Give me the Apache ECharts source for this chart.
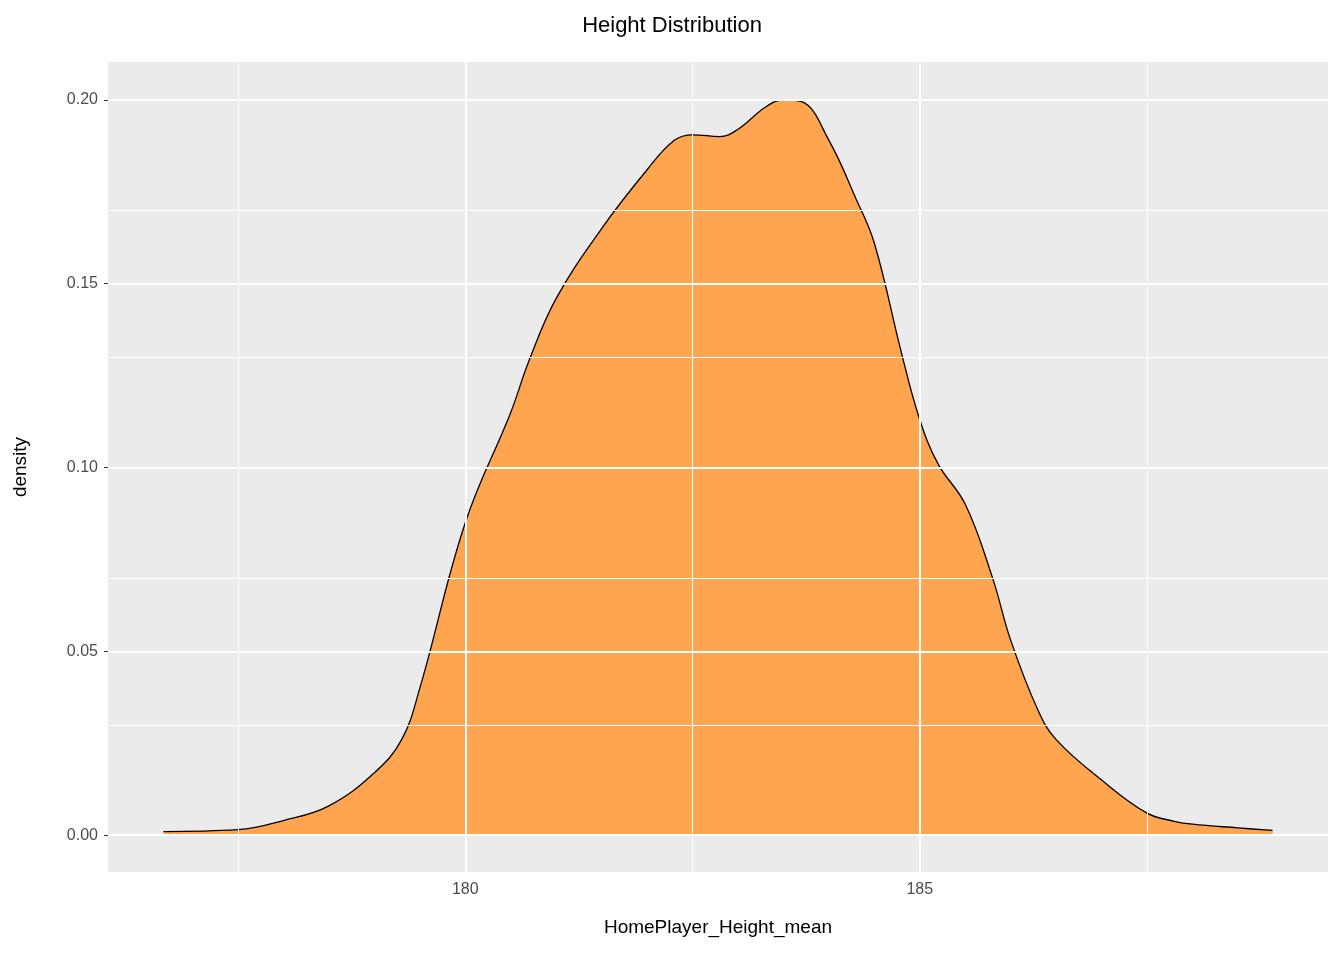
<!DOCTYPE html>
<html>
<head>
<meta charset="utf-8">
<script src="https://cdn.jsdelivr.net/npm/echarts@6/dist/echarts.min.js"></script>
<style>html,body{margin:0;padding:0;background:#fff}#main{width:1344px;height:960px}</style>
</head>
<body>
<div id="main"></div>
<script>
// density curve
var heights = [176.68, 177.5, 178, 178.5, 179, 179.3, 179.5, 180, 180.5, 180.7, 181, 181.5, 182, 182.3, 182.5, 182.8, 183, 183.3, 183.5, 183.7, 184, 184.3, 184.5, 184.8, 185, 185.2, 185.5, 185.8, 186, 186.3, 186.5, 187, 187.5, 187.8, 188, 188.5, 188.88];
var density = [0.001, 0.0015, 0.004, 0.008, 0.017, 0.026, 0.040, 0.085, 0.115, 0.129, 0.146, 0.165, 0.181, 0.189, 0.1905, 0.190, 0.192, 0.198, 0.200, 0.1995, 0.189, 0.173, 0.161, 0.131, 0.113, 0.101, 0.090, 0.070, 0.053, 0.034, 0.026, 0.015, 0.006, 0.0038, 0.003, 0.002, 0.0013];
var xTicks = [180, 185];
var xMinor = [177.5, 182.5, 187.5];
var yTicks = [0, 0.05, 0.10, 0.15, 0.20];
var yMinor = [0.025, 0.075, 0.125, 0.175];

var myChart = echarts.init(document.getElementById('main'));

var pts = [];
for (var i = 0; i < heights.length; i++) pts.push([heights[i], density[i]]);

var gridLines = [];
xMinor.forEach(function (v) { gridLines.push({ xAxis: v, lineStyle: { width: 1 } }); });
yMinor.forEach(function (v) { gridLines.push({ yAxis: v, lineStyle: { width: 1 } }); });
xTicks.forEach(function (v) { gridLines.push({ xAxis: v, lineStyle: { width: 2 } }); });
yTicks.forEach(function (v) { gridLines.push({ yAxis: v, lineStyle: { width: 2 } }); });

var lbl = { color: '#4D4D4D', fontSize: 16, fontFamily: 'Arial, Liberation Sans' };

var option = {
    animation: false,
    title: {
        text: 'Height Distribution', left: 'center', top: 10,
        textStyle: { fontSize: 22, fontWeight: 'normal', color: '#000', fontFamily: 'Arial, Liberation Sans' }
    },
    grid: { left: 108, right: 16, top: 62, bottom: 88, show: true, backgroundColor: '#EBEBEB', borderWidth: 0 },
    xAxis: {
        type: 'value', min: 176.07, max: 189.49,
        name: 'HomePlayer_Height_mean', nameLocation: 'middle', nameGap: 46,
        nameTextStyle: { fontSize: 19, color: '#000', fontFamily: 'Arial, Liberation Sans' },
        axisLine: { show: false },
        splitLine: { show: false },
        axisTick: { show: true, length: 4, lineStyle: { color: '#333' }, customValues: xTicks },
        axisLabel: Object.assign({ customValues: xTicks, margin: 10 }, lbl)
    },
    yAxis: {
        type: 'value', min: -0.01, max: 0.2103,
        name: 'density', nameLocation: 'middle', nameGap: 78, nameRotate: 90,
        nameTextStyle: { fontSize: 19, color: '#000', fontFamily: 'Arial, Liberation Sans' },
        axisLine: { show: false },
        splitLine: { show: false },
        axisTick: { show: true, length: 4, lineStyle: { color: '#333' }, customValues: yTicks },
        axisLabel: Object.assign({ customValues: yTicks, margin: 10, formatter: function (v) { return v.toFixed(2); } }, lbl)
    },
    series: [{
        type: 'line', data: [], z: 1, silent: true,
        markLine: {
            silent: true, symbol: 'none', label: { show: false },
            lineStyle: { color: '#FFFFFF', type: 'solid' },
            data: gridLines
        }
    }, {
        type: 'line', data: pts, z: 2, smooth: 0.4, showSymbol: false,
        lineStyle: { color: '#000', width: 1.3 },
        areaStyle: { color: '#FFA54F', opacity: 1, origin: 0 }
    }]
};
myChart.setOption(option);
</script>
</body>
</html>
